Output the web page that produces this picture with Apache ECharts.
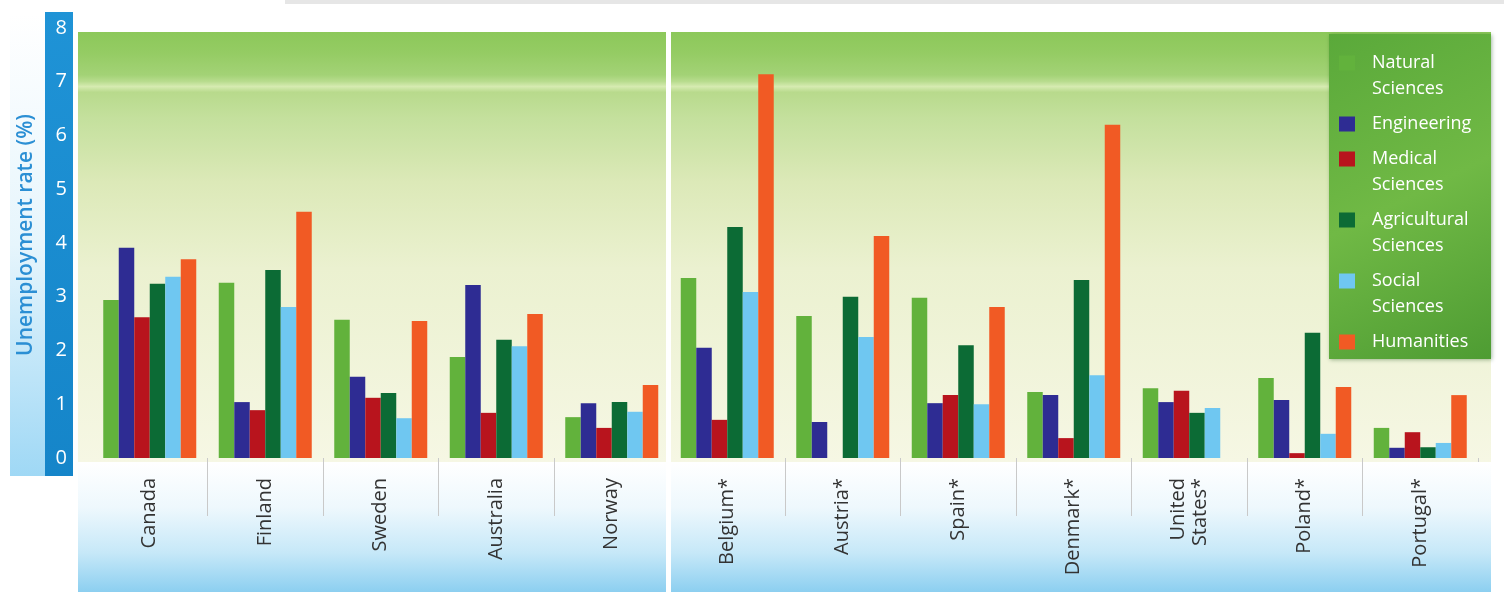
<!DOCTYPE html>
<html>
<head>
<meta charset="utf-8">
<script src="https://cdn.jsdelivr.net/npm/echarts@6/dist/echarts.min.js"></script>
<style>
  html, body { margin: 0; padding: 0; background: #ffffff; }
  #chart { width: 1504px; height: 594px; }
</style>
</head>
<body>
<div id="chart"></div>
<script>
// ---- data ----
var categories = ['Canada', 'Finland', 'Sweden', 'Australia', 'Norway',
  'Belgium*', 'Austria*', 'Spain*', 'Denmark*', 'United\nStates*', 'Poland*', 'Portugal*'];
var seriesNames = ['Natural\nSciences', 'Engineering', 'Medical\nSciences',
  'Agricultural\nSciences', 'Social\nSciences', 'Humanities'];
var naturalSciences      = [2.94, 3.26, 2.57, 1.88, 0.76, 3.35, 2.64, 2.98, 1.23, 1.30, 1.49, 0.56];
var engineering          = [3.91, 1.04, 1.51, 3.22, 1.02, 2.05, 0.67, 1.02, 1.17, 1.04, 1.08, 0.19];
var medicalSciences      = [2.62, 0.89, 1.12, 0.84, 0.56, 0.71, null, 1.17, 0.37, 1.25, 0.09, 0.48];
var agriculturalSciences = [3.24, 3.50, 1.21, 2.20, 1.04, 4.30, 3.00, 2.10, 3.31, 0.84, 2.33, 0.20];
var socialSciences       = [3.37, 2.81, 0.74, 2.08, 0.86, 3.09, 2.25, 1.00, 1.54, 0.93, 0.45, 0.28];
var humanities           = [3.70, 4.58, 2.55, 2.68, 1.36, 7.14, 4.13, 2.81, 6.20, null, 1.32, 1.17];
var yTicks = [0, 1, 2, 3, 4, 5, 6, 7, 8];
var yAxisTitle = 'Unemployment rate (%)';

// ---- styling ----
var colors = ['#62b23c', '#2e2c93', '#b8141d', '#0c6b35', '#6fc7f1', '#f15a24'];
var allValues = [naturalSciences, engineering, medicalSciences, agriculturalSciences, socialSciences, humanities];
var twoLine = seriesNames.map(function (n) { return n.indexOf('\n') >= 0; });
// icon box 16 x 42: square aligned with first text line (two-line names) or centred (one-line names)
var iconTop = 'path://M0,0h0.01v0.01h-0.01zM0,0.5h16v15h-16zM0,41.99h0.01v0.01h-0.01z';
var iconMid = 'path://M0,0h0.01v0.01h-0.01zM0,13.5h16v15h-16zM0,41.99h0.01v0.01h-0.01z';

var panelGradient = new echarts.graphic.LinearGradient(0, 0, 0, 1, [
  { offset: 0.00, color: '#8cc85a' },
  { offset: 0.05, color: '#95cc64' },
  { offset: 0.10, color: '#a3d276' },
  { offset: 0.115, color: '#b8dc8e' },
  { offset: 0.127, color: '#d6ebb1' },
  { offset: 0.14, color: '#b8da8c' },
  { offset: 0.20, color: '#c4e09d' },
  { offset: 0.35, color: '#dce9b8' },
  { offset: 0.55, color: '#ebf1d0' },
  { offset: 1.00, color: '#f6f7e4' }
]);
function labelGradient() {
  return new echarts.graphic.LinearGradient(0, 0, 0, 1, [
    { offset: 0, color: '#ffffff' },
    { offset: 0.35, color: '#eef8fd' },
    { offset: 0.7, color: '#c6e8f8' },
    { offset: 1, color: '#8ccff0' }
  ]);
}

var chart = echarts.init(document.getElementById('chart'), null, { renderer: 'canvas' });

var option = {
  backgroundColor: '#ffffff',
  animation: false,
  textStyle: { fontFamily: 'Open Sans' },
  graphic: [
    { type: 'rect', z: -10, shape: { x: 285, y: 0, width: 1219, height: 4 }, style: { fill: '#e6e6e6' } },
    { type: 'rect', z: -10, shape: { x: 10, y: 14, width: 36, height: 462 },
      style: { fill: new echarts.graphic.LinearGradient(0, 0, 0, 1, [
        { offset: 0, color: '#ffffff' }, { offset: 0.5, color: '#e6f5fc' }, { offset: 1, color: '#9fd8f5' }]) } },
    { type: 'rect', z: -10, shape: { x: 45, y: 12, width: 28, height: 464 },
      style: { fill: new echarts.graphic.LinearGradient(0, 0, 0, 1, [
        { offset: 0, color: '#1f93d6' }, { offset: 1, color: '#1585c9' }]) } },
    { type: 'rect', z: -10, shape: { x: 78, y: 32, width: 588, height: 430 }, style: { fill: panelGradient } },
    { type: 'rect', z: -10, shape: { x: 671, y: 32, width: 820, height: 430 }, style: { fill: panelGradient } },
    { type: 'rect', z: -10, shape: { x: 78, y: 462, width: 588, height: 130 }, style: { fill: labelGradient() } },
    { type: 'rect', z: -10, shape: { x: 671, y: 462, width: 820, height: 130 }, style: { fill: labelGradient() } },
    // the right panel has no divider after its last category
    { type: 'rect', z: 20, shape: { x: 1475, y: 462, width: 7, height: 130 }, style: { fill: labelGradient() } },
    { type: 'rect', z: -5, shape: { x: 1329, y: 34, width: 162, height: 325 },
      style: { fill: new echarts.graphic.LinearGradient(0, 0, 1, 1, [
        { offset: 0, color: '#5aa93a' }, { offset: 0.5, color: '#70b945' }, { offset: 1, color: '#4e9c33' }]),
        shadowBlur: 4, shadowColor: 'rgba(0,60,0,0.35)', shadowOffsetX: 1, shadowOffsetY: 1 } }
  ],
  legend: {
    orient: 'vertical',
    left: 1334,
    top: 37,
    itemWidth: 16,
    itemHeight: 42,
    itemGap: -7,
    selectedMode: false,
    textStyle: { color: '#ffffff', fontSize: 18, lineHeight: 26, fontFamily: 'Open Sans', padding: [8, 0, 8, 12] },
    data: seriesNames.map(function (n, i) { return { name: n, icon: twoLine[i] ? iconTop : iconMid }; })
  },
  grid: { left: 92, right: 26, top: 28, bottom: 136, containLabel: false },
  xAxis: {
    type: 'category',
    data: categories,
    axisLine: { show: false },
    axisTick: {
      show: true, length: 58, lineStyle: { color: '#c9c9c9', width: 1 },
      interval: function (i) { return i !== 0 && i !== 5; }
    },
    axisLabel: {
      rotate: 90, margin: 20, fontSize: 20, color: '#333333', lineHeight: 22,
      fontFamily: 'Open Sans', interval: 0
    }
  },
  yAxis: {
    type: 'value',
    min: yTicks[0],
    max: yTicks[yTicks.length - 1],
    interval: 1,
    name: yAxisTitle,
    nameLocation: 'middle',
    nameRotate: 90,
    nameGap: 55,
    nameTextStyle: { color: '#2b8fd4', fontSize: 21, fontWeight: 600, fontFamily: 'Open Sans', padding: [0, 0, 0, 16] },
    axisLine: { show: false },
    axisTick: { show: false },
    splitLine: { show: false },
    axisLabel: { color: '#ffffff', fontSize: 20, align: 'right', margin: 25, fontFamily: 'Open Sans' }
  },
  series: seriesNames.map(function (n, i) {
    return {
      name: n,
      type: 'bar',
      data: allValues[i],
      barWidth: 15.5,
      barGap: '0%',
      itemStyle: { color: colors[i] }
    };
  })
};
chart.setOption(option);
</script>
</body>
</html>
